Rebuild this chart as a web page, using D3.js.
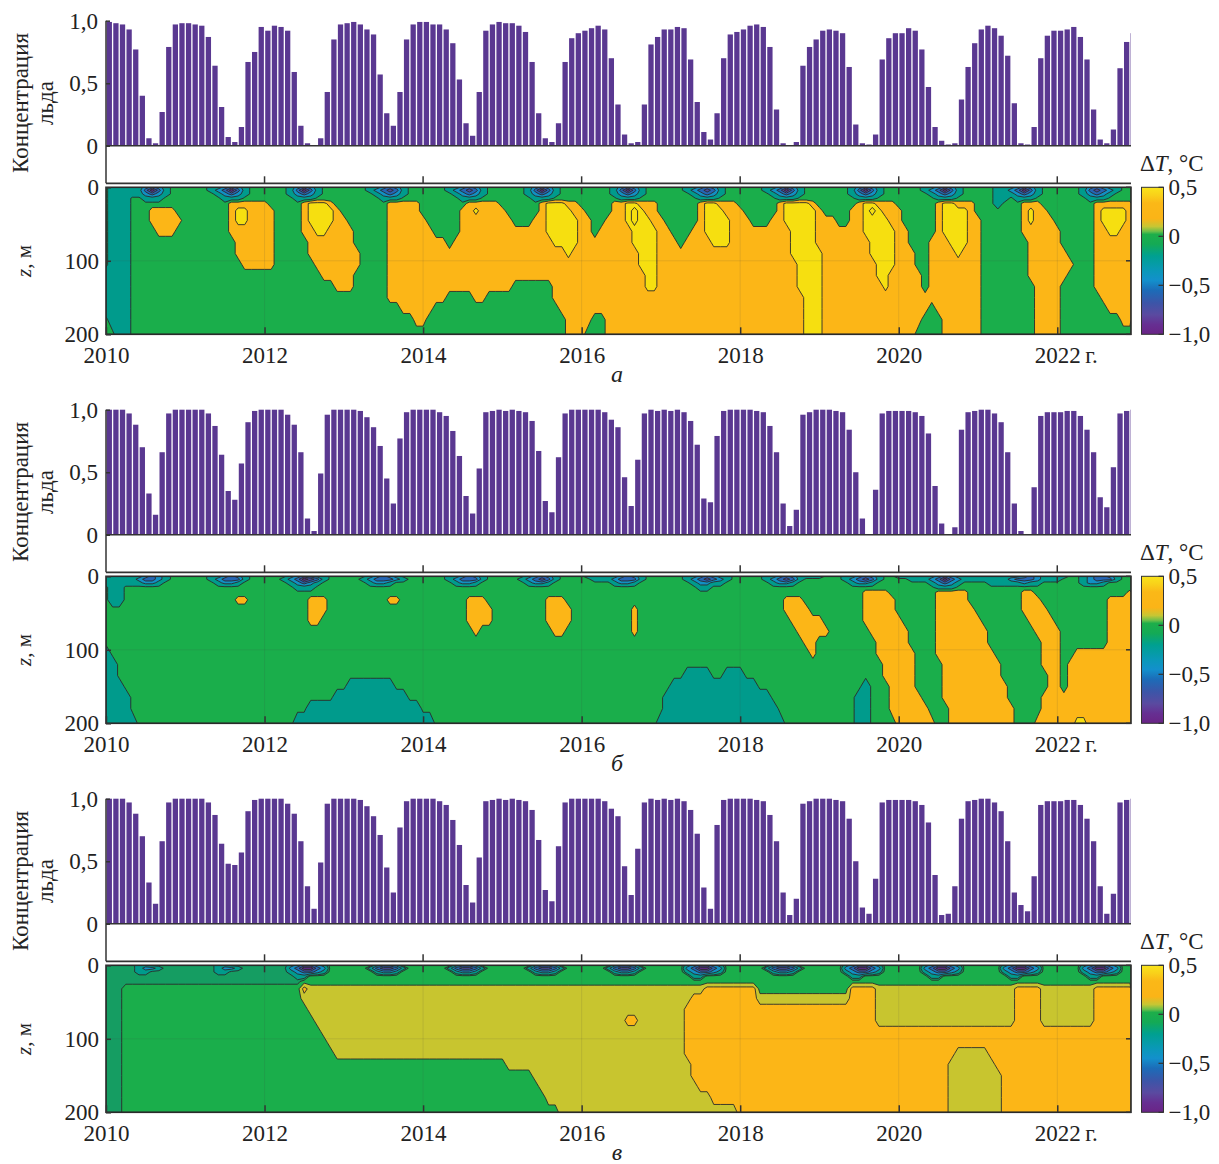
<!DOCTYPE html>
<html>
<head>
<meta charset="utf-8">
<script src="https://cdn.jsdelivr.net/npm/d3@7"></script>
<style>
  body { margin: 0; background: #fff; }
  text { font-family: "Liberation Serif", "DejaVu Serif", serif; fill: #222; }
</style>
</head>
<body>
<svg id="chart" width="1219" height="1164"></svg>
<script>
// ---------- data ----------
const years = d3.range(2010, 2023);
const xTicks = [2010, 2012, 2014, 2016, 2018, 2020, 2022];
const iceTicks = [0, 0.5, 1];
const zTicks = [0, 100, 200];
const cbTicks = [0.5, 0, -0.5, -1];
const panelLetters = ['а', 'б', 'в'];

// monthly ice concentration, one line per year (Jan..Dec)
const iceA = [
  0.99, 0.98, 0.97, 0.93, 0.77, 0.40, 0.06, 0.02, 0.27, 0.79, 0.97, 0.98,
  0.98, 0.97, 0.96, 0.87, 0.64, 0.31, 0.07, 0.03, 0.15, 0.67, 0.75, 0.95,
  0.92, 0.96, 0.95, 0.92, 0.59, 0.16, 0.02, 0.00, 0.06, 0.43, 0.85, 0.97,
  0.98, 0.99, 0.97, 0.93, 0.89, 0.57, 0.26, 0.16, 0.43, 0.85, 0.97, 0.99,
  0.99, 0.97, 0.97, 0.93, 0.82, 0.53, 0.18, 0.08, 0.43, 0.92, 0.97, 0.99,
  0.98, 0.98, 0.96, 0.91, 0.67, 0.26, 0.06, 0.03, 0.18, 0.67, 0.86, 0.90,
  0.92, 0.94, 0.96, 0.93, 0.70, 0.33, 0.09, 0.02, 0.03, 0.33, 0.81, 0.87,
  0.93, 0.93, 0.95, 0.94, 0.69, 0.35, 0.11, 0.05, 0.26, 0.70, 0.89, 0.91,
  0.93, 0.96, 0.97, 0.95, 0.79, 0.29, 0.02, 0.00, 0.03, 0.64, 0.79, 0.85,
  0.92, 0.93, 0.92, 0.90, 0.63, 0.17, 0.02, 0.01, 0.09, 0.69, 0.86, 0.90,
  0.90, 0.94, 0.92, 0.77, 0.47, 0.15, 0.04, 0.01, 0.02, 0.37, 0.63, 0.82,
  0.93, 0.96, 0.94, 0.88, 0.72, 0.34, 0.02, 0.01, 0.15, 0.70, 0.88, 0.92,
  0.92, 0.93, 0.95, 0.87, 0.69, 0.29, 0.05, 0.02, 0.13, 0.62, 0.83, 0.90
];
const iceB = [
  1.00, 1.00, 1.00, 0.97, 0.88, 0.70, 0.33, 0.16, 0.66, 0.97, 1.00, 1.00,
  1.00, 1.00, 1.00, 0.97, 0.87, 0.64, 0.35, 0.28, 0.57, 0.90, 0.99, 1.00,
  1.00, 1.00, 1.00, 0.96, 0.88, 0.66, 0.13, 0.03, 0.49, 0.96, 1.00, 1.00,
  1.00, 1.00, 0.99, 0.94, 0.86, 0.71, 0.45, 0.25, 0.77, 0.98, 1.00, 1.00,
  1.00, 1.00, 0.98, 0.95, 0.83, 0.63, 0.31, 0.17, 0.53, 0.98, 0.99, 1.00,
  0.99, 1.00, 0.99, 0.98, 0.91, 0.67, 0.27, 0.18, 0.62, 0.97, 1.00, 1.00,
  1.00, 1.00, 1.00, 0.98, 0.92, 0.86, 0.46, 0.23, 0.60, 0.97, 1.00, 0.99,
  1.00, 0.99, 1.00, 0.98, 0.91, 0.72, 0.29, 0.26, 0.79, 0.99, 1.00, 1.00,
  1.00, 1.00, 0.99, 0.98, 0.87, 0.66, 0.25, 0.07, 0.20, 0.96, 0.98, 1.00,
  1.00, 1.00, 0.99, 0.98, 0.84, 0.50, 0.13, 0.00, 0.36, 0.97, 0.99, 0.99,
  0.99, 0.99, 0.98, 0.95, 0.81, 0.39, 0.09, 0.00, 0.06, 0.84, 0.98, 0.99,
  1.00, 1.00, 0.97, 0.90, 0.66, 0.25, 0.03, 0.00, 0.38, 0.95, 0.98, 0.98,
  0.98, 0.99, 0.99, 0.95, 0.84, 0.66, 0.30, 0.22, 0.54, 0.97, 0.99, 1.00
];
const iceC = [
  1.00, 1.00, 1.00, 0.97, 0.88, 0.70, 0.33, 0.16, 0.66, 0.97, 1.00, 1.00,
  1.00, 1.00, 1.00, 0.97, 0.87, 0.64, 0.48, 0.47, 0.57, 0.90, 0.99, 1.00,
  1.00, 1.00, 1.00, 0.96, 0.88, 0.66, 0.30, 0.12, 0.49, 0.96, 1.00, 1.00,
  1.00, 1.00, 0.99, 0.94, 0.86, 0.71, 0.45, 0.25, 0.77, 0.98, 1.00, 1.00,
  1.00, 1.00, 0.98, 0.95, 0.83, 0.63, 0.31, 0.17, 0.53, 0.98, 0.99, 1.00,
  0.99, 1.00, 0.99, 0.98, 0.91, 0.67, 0.27, 0.18, 0.62, 0.97, 1.00, 1.00,
  1.00, 1.00, 1.00, 0.98, 0.92, 0.86, 0.46, 0.23, 0.60, 0.97, 1.00, 0.99,
  1.00, 0.99, 1.00, 0.98, 0.91, 0.72, 0.29, 0.12, 0.79, 0.99, 1.00, 1.00,
  1.00, 1.00, 0.99, 0.98, 0.87, 0.66, 0.25, 0.07, 0.20, 0.96, 0.98, 1.00,
  1.00, 1.00, 0.99, 0.98, 0.84, 0.50, 0.13, 0.08, 0.36, 0.97, 0.99, 0.99,
  0.99, 0.99, 0.98, 0.95, 0.81, 0.39, 0.07, 0.08, 0.30, 0.84, 0.98, 0.99,
  1.00, 1.00, 0.97, 0.90, 0.66, 0.25, 0.15, 0.10, 0.38, 0.95, 0.98, 0.98,
  0.98, 0.99, 0.99, 0.95, 0.84, 0.66, 0.30, 0.08, 0.24, 0.97, 0.99, 1.00
];

// depth levels (m) of the temperature-anomaly grid rows
const depths = [0, 4, 9, 15, 22, 32, 45, 60, 75, 90, 105, 120, 135, 150, 165, 180, 200];

// ΔT class codes and the value (°C) each stands for
const codeValue = { p: -0.95, v: -0.7, b: -0.5, c: -0.35, t: -0.2, e: -0.08, g: 0, l: 0.12, o: 0.27, y: 0.45, Y: 0.6 };

// ΔT grid, one string per depth; 13 yearly blocks of 12 months (run-length coded)
const dtA = [
  "gt5cbctg2 g4t2cbctg2 g4tcbctg3 g4t2cbctg2 g4t2cbctg2 g4tcbctg3 g5tcbctg2 g4t2cbctg2 g4t2cbctg2 g5tcbctg2 g4t2cbctg2 g3t3cbctg2 g4tcbct2g2",
  "gt5bpbtg2 g4tcbpbtg2 g4tbpbtg3 g4tcbvbtg2 g4tcbvbtg2 g4tbpbtg3 g5tbpbtg2 g4tcbvbtg2 g4tcbpbtg2 g5tbpbtg2 g4tcbpbtg2 g3t2cbpbtg2 g4tbvbctg2",
  "gt5cbctg2 g5tcbctg2 g4tcbctg3 g5tcbctg2 g5tcbctg2 g4tcbctg3 g5tcbctg2 g5tcbctg2 g5tcbctg2 g5tcbctg2 g5tcbctg2 g3t3cbctg2 g4tcbctg3",
  "gt3g2t3g3 g6t3g3 g5t3g4 g6t3g3 g6t3g3 g5t3g4 g6t3g3 g6t3g3 g6t3g3 g6t3g3 g6t3g3 g3t2gt3g3 g5t3g4",
  "gt3g8 g7o5 og5oy3og g7o5 g7o5 g6oy3o2 g5o2y2o3 g6oy2o3 g6oy4o g6oy2o3 g6oy2o3 g3tg3o3g2 g6o6",
  "gt3g3o4g g7oy2o2 o2g4oy4o g7o5 g6o2yo3 og5oy4o og4o2yYyo2 g6oy3o2 og5oy5 og4o2yYyo2 og5oy4o g7oyo2g g6oy4o",
  "gt3g3o5 g7oy2o2 o2g4oy4o og6o5 og5o6 o2g3o2y5 o2g2o3yYy2o og5oy4o o2g3o2y5 o3g2o2y4o og5oy4o og6oyo3 g6oy4o",
  "gt3g4o3g g7o5 o2g4o2y2o2 o2g5o5 o2g4o6 o7y5 o2go5y4 o2g3o2y4o o8y4 o7y5 o2g4oy4o og6o5 og5o2y2o2",
  "gt3g8 g8o4 o2g5o5 o2g5o5 o4go7 o8y4 o8y4 o3go4y3o o8y4 o8y4 o2g3o3y3o og7o4 og5o6",
  "gt3g8 g8o4 o2g5o5 o3g4o5 o12 o10yo o9y3 o12 o8y4 yo7y4 o3g2o4yo2 og7o4 o2g4o6",
  "gt3g8 g9o3 o2g6o4 o3g4o5 o12 o12 o9y3 o12 o9y3 yo8y3 o3g2o7 og7o4 o3g3o6",
  "t4g8 g12 g9o3 o2g5o5 o12 o12 o10y2 o12 o9y3 yo8y2o o4go7 og7o4 o2g4o6",
  "t4g8 g12 g11o o2g5o5 o12 o2g6o4 o10y2 o12 o9y3 yo9yo o4go7 og8o3 og5o6",
  "t4g8 g12 g12 g7o5 o4g4o2g2 g8o4 o12 o12 o10y2 yo11 o12 og8o3 og6o5",
  "t4g8 g12 g12 g9o3 o2g10 g9o3 o12 o12 o10y2 yo11 o5go6 og8o3 og7o4",
  "gt3g8 g12 g12 g11o og11 g10o2 o2g2o8 o12 o10y2 yo11 o4g3o5 og8o3 og9o2",
  "g2t2g8 g12 g12 g12 g12 g10o2 og3o8 o12 o10y2 yo11 o3g4o5 og8o3 og11"
];
const dtB = [
  "t6cbctg2 g4t2cbctg2 g4tcbct2g2 g4tcbctg3 g4t2cbctg2 g4tcbctg3 gt5cbctg2 g4t2cbct2g g4t2cbct3 tg3t2cbctg2 t6cbct3 t7cbct2 t2g2tcb2ctg2",
  "t5cb2ctg2 g4tcb3tg2 g3tcbpvbtg2 g3tcb3ctg2 g4tcb3tg2 g3tcbvbtg3 g2t3cb3tg2 g4tcbvbctg g4tcbvbtg2 g4tcbvbtg2 g2t3cbpbct2 t5cb3ct2 tg3tcb3tg2",
  "t6c2tg3 g5tc2tg3 g4tcbctg3 g4tc2tg4 g5tc2tg3 g4tc2tg4 g5tc2tg3 g5tc2t2g2 g5tc2tg3 g5tc2tg3 g5tcbctg2 g2t5ct2g2 g4tc2tg4",
  "gt2g9 g12 g5t3g4 g12 g12 g12 g12 g6t2g4 g12 g12 g6t3g3 g12 g12",
  "gt2g9 g12 g12 g12 g12 g12 g12 g12 g12 g7o4g g6o5g g7o2g3 g11o",
  "gt2g9 g8o2g2 g7o3g2 g7o2g3 g7o3g2 g7o3g2 g12 g12 g7o3g2 g7o5 g6o5g g7o3g2 g8o4",
  "g12 g12 g7o3g2 g12 g7o4g g7o4g g8og3 g12 g7o4g g7o5 g6o6 g7o4g g8o4",
  "g12 g12 g7o2g3 g12 g7o4g g7o4g g8og3 g12 g8o4 og6o5 og5o6 og7o4 g8o4",
  "g12 g12 g12 g12 g8og3 g8o2g2 g8og3 g12 g9o3 o2g6o4 o2g4o6 o2g7o3 og7o4",
  "g12 g12 g12 g12 g12 g12 g12 g12 g10o2 g9o3 o2g4o6 o2g8o2 og7o4",
  "tg11 g12 g12 g12 g12 g12 g12 g12 g11o g9o3 o3g3o6 o3g7o2 og2o9",
  "t2g10 g12 g12 g12 g12 g12 g12 g12 g12 g10o2 o3g4o5 o4g6o2 ogo10",
  "t2g10 g12 g12 g12 g12 g12 g12 g4t4g2t2 tg11 g10o2 o3g4o5 o4g7o ogo10",
  "t3g9 g12 g12 gt7g4 g12 g12 g12 g2t10 t3g9 g7tg3o o3g4o5 o5g6o ogo10",
  "t4g8 g12 g11t t10g2 g12 g12 g12 gt11 t5g7 g6t2g3o o4g3o5 o5g5o2 o12",
  "t4g8 g12 g7t5 t12 g12 g12 g12 gt11 t6g6 g6t2g3o o5g3o4 o6g4o2 o12",
  "t5g7 g12 g5t7 t12 t2g10 g12 g12 t12 t7g5 g6t2g4 o6g2o4 o6g3o3 o3y2o7"
];
const dtC = [
  "e5t2e5 e5t2e5 e4tcb2ctg2 g5tc2tg3 g5tc2tg3 g5tc2tg3 g5tc2tg3 g4tcb2ctg2 g5tc2tg3 g4tcb2ctg2 g4tcb2ctg2 g4tcb2ctg2 g4tcb2ctg2",
  "e5tc2te3 e5tc2te3 e4cbp2bcg2 g4tbv2btg2 g4tbv2btg2 g4tbv2btg2 g4tbv2btg2 g4cbp2bcg2 g4tbv2btg2 g4cbp2bcg2 g4cbp2bcg2 g4cbp2bcg2 g4cbp2bcg2",
  "e5t2e5 e5t2e5 e4tcb2ctg2 g5tc2tg3 g5tc2tg3 g5tc2tg3 g5tc2tg3 g4tcb2ctg2 g5tc2tg3 g4tcb2ctg2 g4tcb2ctg2 g4tcb2ctg2 g4tcb2ctg2",
  "e12 e12 e5t2g5 g12 g12 g12 g12 g5t2g5 g12 g5t2g5 g5t2g5 g5t2g5 g5t2g5",
  "e12 e12 e6g6 g12 g12 g12 g12 g12 g12 g12 g12 g12 g12",
  "e3g9 g12 g6ol5 l12 l12 l12 l12 l7o5 o3g9 g5o4l3 l12 l6o4l2 l6o6",
  "e3g9 g12 g6l6 l12 l12 l12 l12 l5o7 o3l9 l5o4l3 l12 l6o4l2 l6o6",
  "e3g9 g12 g7l5 l12 l12 l12 l12 l4o8 o12 o9l3 l12 l6o4l2 l6o6",
  "e3g9 g12 g8l4 l12 l12 l12 l7o2l3 l4o8 o12 o9l3 l12 l6o4l2 l6o6",
  "e3g9 g12 g9l3 l12 l12 l12 l12 l4o8 o12 o12 o12 o12 o12",
  "e3g9 g12 g10l2 l12 l12 l12 l12 l4o8 o12 o12 o12 o12 o12",
  "e3g9 g12 g11l l12 l12 l12 l12 l4o8 o12 o12 o9l3 l2o10 o12",
  "e3g9 g12 g12 g12 g12 gl11 l12 l5o7 o12 o12 o8l4 l3o9 o12",
  "e3g9 g12 g12 g12 g12 g5l7 l12 l5o7 o12 o12 o8l4 l4o8 o12",
  "e3g9 g12 g12 g12 g12 g6l6 l12 l6o6 o12 o12 o8l4 l4o8 o12",
  "e3g9 g12 g12 g12 g12 g7l5 l12 l8o4 o12 o12 o8l4 l4o8 o12",
  "e3g9 g12 g12 g12 g12 g9l3 l12 l12 o12 o12 o8l4 l4o8 o12"
];

// contour levels and band colours (band colour = colour from that level upward)
const levelsAB = [-0.8, -0.6, -0.43, -0.28, -0.05, 0.15, 0.38, 0.53];
const colorsAB = ['#4a4c9f', '#2565b4', '#1290c4', '#009b8c', '#1aae4b', '#fcb617', '#f6df10', '#f6df10'];
const levelsC = [-0.8, -0.6, -0.43, -0.28, -0.12, -0.05, 0.06, 0.2, 0.38];
const colorsC = ['#4a4c9f', '#2565b4', '#1290c4', '#009b8c', '#159d62', '#1aae4b', '#c8c52f', '#fcb617', '#f6df10'];
const baseColor = '#5e2a86';

// colour bar stops
const cbStops = [
  [0.5, '#f9e41b'], [0.42, '#f9d11a'], [0.34, '#fbb817'], [0.18, '#fbb417'], [0.1, '#c6c634'],
  [0.05, '#6cbf4a'], [0.02, '#1eae4a'], [-0.08, '#14aa55'], [-0.2, '#00a090'], [-0.35, '#0a98b8'],
  [-0.45, '#1390cc'], [-0.55, '#1c6cb8'], [-0.68, '#3c55a8'], [-0.8, '#5a4aa0'], [-0.9, '#662f92'], [-1, '#6a2486']
];

// ---------- drawing ----------
const svg = d3.select('#chart');
const errors = [];
const nCols = years.length * 12;
const L = 106, R = 1131;
const x = d3.scaleLinear().domain([2010, 2022.93]).range([L, R]);
const comma = v => (v < 0 ? '\u2212' : '') + (v === 0 ? '0' : d3.format('.1f')(Math.abs(v)).replace('.', ','));

function decodeRow(row, ri) {
  const out = [];
  row.trim().split(/\s+/).forEach((blk, k) => {
    let n = 0;
    blk.replace(/([a-zA-Z])(\d*)/g, (m, ch, cnt) => {
      const c = cnt ? +cnt : 1;
      for (let i = 0; i < c; i++) out.push(codeValue[ch]);
      n += c;
      return m;
    });
    if (n !== 12) errors.push(`row ${ri} block ${k} (${blk}) = ${n}`);
  });
  return out;
}

const defs = svg.append('defs');
const grad = defs.append('linearGradient').attr('id', 'cbgrad').attr('x1', 0).attr('x2', 0).attr('y1', 0).attr('y2', 1);
cbStops.forEach(s => grad.append('stop').attr('offset', ((0.5 - s[0]) / 1.5 * 100) + '%').attr('stop-color', s[1]));

function drawPanel(idx, dy, ice, rows, levels, colors) {
  const g = svg.append('g').attr('transform', `translate(0,${dy})`);

  // --- ice bars ---
  const yIce = d3.scaleLinear().domain([-0.3, 1]).range([183.3, 20.7]);
  defs.append('clipPath').attr('id', 'barclip' + idx).append('rect')
    .attr('x', L).attr('y', 0).attr('width', R - L).attr('height', 190);
  g.append('g').attr('clip-path', `url(#barclip${idx})`)
    .selectAll('rect').data(ice).join('rect')
    .attr('x', (d, i) => x(2010 + i / 12) + (x(2010 + 1 / 12) - x(2010)) * 0.1)
    .attr('width', (x(2010 + 1 / 12) - x(2010)) * 0.8)
    .attr('y', d => yIce(d))
    .attr('height', d => yIce(0) - yIce(d))
    .attr('fill', '#5a3891');

  g.append('line').attr('x1', L).attr('x2', R).attr('y1', yIce(0)).attr('y2', yIce(0))
    .attr('stroke', '#333').attr('stroke-width', 1.6);
  g.append('line').attr('x1', L).attr('x2', R).attr('y1', yIce(-0.3)).attr('y2', yIce(-0.3))
    .attr('stroke', '#333').attr('stroke-width', 1.8);
  g.append('line').attr('x1', L).attr('x2', L).attr('y1', yIce(1)).attr('y2', yIce(-0.3))
    .attr('stroke', '#333').attr('stroke-width', 1.5);

  const ay = g.append('g').attr('transform', `translate(${L},0)`)
    .call(d3.axisLeft(yIce).tickValues(iceTicks).tickSize(-4).tickPadding(8).tickFormat(comma));
  ay.select('.domain').remove();
  ay.selectAll('line').attr('stroke', '#333').attr('stroke-width', 1.5);
  ay.selectAll('text').attr('font-size', 23).attr('fill', '#222').attr('font-family', null);

  g.selectAll('.bartick').data(xTicks.slice(1)).join('line')
    .attr('x1', d => x(d)).attr('x2', d => x(d))
    .attr('y1', yIce(-0.3)).attr('y2', yIce(-0.3) - 7)
    .attr('stroke', '#333').attr('stroke-width', 1.5);

  g.append('text').attr('transform', 'translate(28,103) rotate(-90)')
    .attr('text-anchor', 'middle').attr('font-size', 23).text('Концентрация');
  g.append('text').attr('transform', 'translate(53,103) rotate(-90)')
    .attr('text-anchor', 'middle').attr('font-size', 23).text('льда');

  // --- ΔT contours ---
  const top = 187.3, bot = 334.3;
  const yZ = d3.scaleLinear().domain([0, 200]).range([top, bot]);
  const values = [];
  rows.forEach((r, ri) => {
    const v = decodeRow(r, ri);
    for (let i = 0; i < nCols; i++) values.push(v[Math.min(i, v.length - 1)]);
  });
  const m = rows.length;
  const zOfRow = d3.scaleLinear().domain(d3.range(m)).range(depths).clamp(true);
  const colX = c => Math.max(L, Math.min(R, x(2010 + (c - 0.5) / 12)));
  const proj = d3.geoTransform({
    point(px, py) { this.stream.point(colX(px), yZ(zOfRow(py - 0.5))); }
  });
  const path = d3.geoPath(proj);
  const contours = d3.contours().size([nCols, m]).thresholds(levels)(values);

  defs.append('clipPath').attr('id', 'cclip' + idx).append('rect')
    .attr('x', L).attr('y', top).attr('width', R - L).attr('height', bot - top);
  const cg = g.append('g').attr('clip-path', `url(#cclip${idx})`);
  cg.append('rect').attr('x', L).attr('y', top).attr('width', R - L).attr('height', bot - top).attr('fill', baseColor);
  cg.selectAll('path').data(contours).join('path')
    .attr('d', path)
    .attr('fill', (d, i) => colors[i])
    .attr('stroke', '#2b2b2b').attr('stroke-width', 0.9).attr('stroke-linejoin', 'round');

  // faint grid
  cg.selectAll('.gx').data(xTicks.slice(1)).join('line')
    .attr('x1', d => x(d)).attr('x2', d => x(d)).attr('y1', top).attr('y2', bot)
    .attr('stroke', 'rgba(70,70,70,0.13)').attr('stroke-width', 1);
  cg.append('line').attr('x1', L).attr('x2', R).attr('y1', yZ(100)).attr('y2', yZ(100))
    .attr('stroke', 'rgba(70,70,70,0.13)').attr('stroke-width', 1);

  g.append('rect').attr('x', L).attr('y', top).attr('width', R - L).attr('height', bot - top)
    .attr('fill', 'none').attr('stroke', '#2a2a2a').attr('stroke-width', 1.6);

  const ax = g.append('g').attr('transform', `translate(0,${bot})`)
    .call(d3.axisBottom(x).tickValues(xTicks).tickSize(-7).tickPadding(12).tickFormat(d3.format('d')));
  ax.select('.domain').remove();
  ax.selectAll('line').attr('stroke', '#333').attr('stroke-width', 1.5);
  ax.selectAll('text').attr('font-size', 23).attr('fill', '#222').attr('font-family', null);
  g.append('text').attr('x', x(2022) + 28).attr('y', bot + 28.3).attr('font-size', 23).text('г.');

  g.selectAll('.ttick').data(xTicks.slice(1)).join('line')
    .attr('x1', d => x(d)).attr('x2', d => x(d)).attr('y1', top).attr('y2', top + 7)
    .attr('stroke', '#333').attr('stroke-width', 1.5);

  const az = g.append('g').attr('transform', `translate(${L},0)`)
    .call(d3.axisLeft(yZ).tickValues(zTicks).tickSize(-5).tickPadding(7).tickFormat(d3.format('d')));
  az.select('.domain').remove();
  az.selectAll('line').attr('stroke', '#333').attr('stroke-width', 1.5);
  az.selectAll('text').attr('font-size', 23).attr('fill', '#222').attr('font-family', null);
  g.selectAll('.rtick').data(zTicks).join('line')
    .attr('x1', R).attr('x2', R - 5).attr('y1', d => yZ(d)).attr('y2', d => yZ(d))
    .attr('stroke', '#333').attr('stroke-width', 1.5);

  const zl = g.append('text').attr('transform', 'translate(31,261) rotate(-90)')
    .attr('text-anchor', 'middle').attr('font-size', 21);
  zl.append('tspan').attr('font-style', 'italic').text('z');
  zl.append('tspan').text(', м');

  // --- colour bar ---
  const cbX = 1141.5, cbW = 22;
  const yCb = d3.scaleLinear().domain([-1, 0.5]).range([bot, top]);
  g.append('rect').attr('x', cbX).attr('y', top).attr('width', cbW).attr('height', bot - top)
    .attr('fill', 'url(#cbgrad)').attr('stroke', '#333').attr('stroke-width', 1);
  g.selectAll('.cbt').data(cbTicks).join('line')
    .attr('x1', cbX + cbW - 5).attr('x2', cbX + cbW).attr('y1', d => yCb(d)).attr('y2', d => yCb(d))
    .attr('stroke', '#333').attr('stroke-width', 1.2);
  g.selectAll('.cbl').data(cbTicks).join('text')
    .attr('x', cbX + cbW + 5).attr('y', d => yCb(d)).attr('dy', '0.35em')
    .attr('font-size', 23).text(comma);
  const dtl = g.append('text').attr('x', 1140).attr('y', 171).attr('font-size', 23);
  dtl.append('tspan').text('Δ');
  dtl.append('tspan').attr('font-style', 'italic').text('T');
  dtl.append('tspan').text(', °C');

  g.append('text').attr('x', 617).attr('y', 382).attr('text-anchor', 'middle')
    .attr('font-size', 24).attr('font-style', 'italic').text(panelLetters[idx]);
}

drawPanel(0, 0, iceA, dtA, levelsAB, colorsAB);
drawPanel(1, 389, iceB, dtB, levelsAB, colorsAB);
drawPanel(2, 778, iceC, dtC, levelsC, colorsC);

if (errors.length) {
  svg.append('text').attr('x', 10).attr('y', 1150).attr('font-size', 12).attr('fill', 'red').text(errors.join(' | '));
}
</script>
</body>
</html>
